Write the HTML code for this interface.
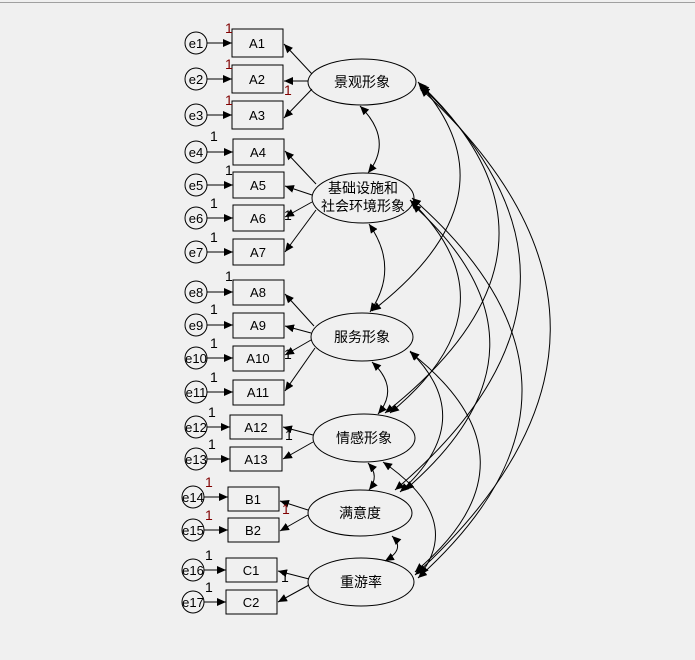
<!DOCTYPE html>
<html><head><meta charset="utf-8"><style>
html,body{margin:0;padding:0;background:#f0f0f0;}
svg{display:block;}
text{font-family:"Liberation Sans","Noto Sans CJK SC",sans-serif;}
</style></head><body>
<svg width="695" height="660" viewBox="0 0 695 660" xmlns="http://www.w3.org/2000/svg">
<defs>
<marker id="a" markerWidth="9" markerHeight="8" refX="9" refY="4" orient="auto-start-reverse" markerUnits="userSpaceOnUse">
<path d="M0,0 L9,4 L0,8 Z" fill="#000"/></marker>
</defs>
<rect width="695" height="660" fill="#f0f0f0"/>
<line x1="0" y1="2.5" x2="695" y2="2.5" stroke="#a0a0a0"/>
<g stroke="#000" stroke-width="1" fill="none">
<g fill="#f0f0f0">
<circle cx="196" cy="43" r="11"/><circle cx="196" cy="79" r="11"/><circle cx="196" cy="115" r="11"/>
<circle cx="196" cy="152" r="11"/><circle cx="196" cy="185" r="11"/><circle cx="196" cy="218" r="11"/><circle cx="196" cy="252" r="11"/>
<circle cx="196" cy="292" r="11"/><circle cx="196" cy="325" r="11"/><circle cx="196" cy="358" r="11"/><circle cx="196" cy="392" r="11"/>
<circle cx="196" cy="427" r="11"/><circle cx="196" cy="459" r="11"/>
<circle cx="193" cy="497" r="11"/><circle cx="193" cy="530" r="11"/>
<circle cx="193" cy="570" r="11"/><circle cx="193" cy="602" r="11"/>
</g>
<g marker-end="url(#a)">
<line x1="207" y1="43" x2="232" y2="43"/><line x1="207" y1="79" x2="232" y2="79"/><line x1="207" y1="115" x2="232" y2="115"/>
<line x1="207" y1="152" x2="233" y2="152"/><line x1="207" y1="185" x2="233" y2="185"/><line x1="207" y1="218" x2="233" y2="218"/><line x1="207" y1="252" x2="233" y2="252"/>
<line x1="207" y1="292" x2="233" y2="292"/><line x1="207" y1="325" x2="233" y2="325"/><line x1="207" y1="358" x2="233" y2="358"/><line x1="207" y1="392" x2="233" y2="392"/>
<line x1="207" y1="427" x2="230" y2="427"/><line x1="207" y1="459" x2="230" y2="459"/>
<line x1="204" y1="497" x2="228" y2="497"/><line x1="204" y1="530" x2="228" y2="530"/>
<line x1="204" y1="570" x2="226" y2="570"/><line x1="204" y1="602" x2="226" y2="602"/>
</g>
<g fill="#f0f0f0">
<rect x="232" y="29" width="51" height="28"/><rect x="232" y="65" width="51" height="28"/><rect x="232" y="101" width="51" height="28"/>
<rect x="233" y="139" width="51" height="26"/><rect x="233" y="172" width="51" height="26"/><rect x="233" y="205" width="51" height="26"/><rect x="233" y="239" width="51" height="26"/>
<rect x="233" y="280" width="51" height="25"/><rect x="233" y="313" width="51" height="25"/><rect x="233" y="346" width="51" height="25"/><rect x="233" y="380" width="51" height="25"/>
<rect x="230" y="415" width="52" height="24"/><rect x="230" y="447" width="52" height="24"/>
<rect x="228" y="487" width="51" height="24"/><rect x="228" y="518" width="51" height="24"/>
<rect x="226" y="558" width="51" height="24"/><rect x="226" y="590" width="51" height="24"/>
</g>
<g fill="#f0f0f0">
<ellipse cx="362" cy="82" rx="54" ry="23"/>
<ellipse cx="363" cy="198" rx="51" ry="25"/>
<ellipse cx="362" cy="337" rx="51" ry="24"/>
<ellipse cx="364" cy="438" rx="51" ry="24"/>
<ellipse cx="360" cy="513" rx="52" ry="23"/>
<ellipse cx="361" cy="582" rx="53" ry="24"/>
</g>
<g marker-end="url(#a)">
<line x1="312" y1="74" x2="284" y2="44"/><line x1="308" y1="81" x2="284" y2="81"/><line x1="312" y1="89" x2="284" y2="118"/>
<line x1="316" y1="184" x2="285" y2="151"/><line x1="312" y1="195" x2="285" y2="186"/><line x1="312" y1="202" x2="285" y2="217"/><line x1="316" y1="210" x2="285" y2="252"/>
<line x1="314" y1="326" x2="285" y2="294"/><line x1="311" y1="333" x2="285" y2="326"/><line x1="311" y1="340" x2="285" y2="355"/><line x1="315" y1="348" x2="285" y2="391"/>
<line x1="313" y1="435" x2="283" y2="427"/><line x1="313" y1="442" x2="283" y2="459"/>
<line x1="308" y1="510" x2="280" y2="501"/><line x1="308" y1="515" x2="280" y2="531"/>
<line x1="309" y1="579" x2="278" y2="571"/><line x1="309" y1="585" x2="278" y2="602"/>
</g>
<g marker-start="url(#a)" marker-end="url(#a)">
<path d="M360,106 Q394,140 368,173"/>
<path d="M369,224 Q400,268 370,312"/>
<path d="M372,362 Q400,388 378,414"/>
<path d="M368,463 Q380,476 369,490"/>
<path d="M392,536 Q406,549 385,561"/>
<path d="M418,82 Q521,196 372,311"/>
<path d="M420,84 Q594,248 385,413"/>
<path d="M421,86 Q632,288 395,490"/>
<path d="M420,88 Q683,330 415,575"/>
<path d="M410,200 Q520,306 390,413"/>
<path d="M412,204 Q571,347 405,490"/>
<path d="M412,198 Q629,388 418,578"/>
<path d="M410,351 Q480,420 400,492"/>
<path d="M410,352 Q548,460 415,572"/>
<path d="M383,462 Q464,518 420,575"/>
</g>
</g>
<g font-size="13" fill="#000" text-anchor="middle">
<text x="196" y="48">e1</text><text x="196" y="84">e2</text><text x="196" y="120">e3</text>
<text x="196" y="157">e4</text><text x="196" y="190">e5</text><text x="196" y="223">e6</text><text x="196" y="257">e7</text>
<text x="196" y="297">e8</text><text x="196" y="330">e9</text><text x="196" y="363">e10</text><text x="196" y="397">e11</text>
<text x="196" y="432">e12</text><text x="196" y="464">e13</text>
<text x="193" y="502">e14</text><text x="193" y="535">e15</text>
<text x="193" y="575">e16</text><text x="193" y="607">e17</text>
<text x="257" y="48">A1</text><text x="257" y="84">A2</text><text x="257" y="120">A3</text>
<text x="258" y="157">A4</text><text x="258" y="190">A5</text><text x="258" y="223">A6</text><text x="258" y="257">A7</text>
<text x="258" y="297">A8</text><text x="258" y="330">A9</text><text x="258" y="363">A10</text><text x="258" y="397">A11</text>
<text x="256" y="432">A12</text><text x="256" y="464">A13</text>
<text x="253" y="504">B1</text><text x="253" y="535">B2</text>
<text x="251" y="575">C1</text><text x="251" y="607">C2</text>
</g>
<g font-size="14" fill="#000" text-anchor="middle">
<text x="362" y="87">景观形象</text>
<text x="363" y="193">基础设施和</text><text x="363" y="211">社会环境形象</text>
<text x="362" y="342">服务形象</text>
<text x="364" y="443">情感形象</text>
<text x="360" y="518">满意度</text>
<text x="361" y="587">重游率</text>
</g>
<g font-size="14">
<text x="225" y="33" fill="#800000">1</text><text x="225" y="69" fill="#800000">1</text><text x="225" y="105" fill="#800000">1</text>
<text x="284" y="95" fill="#800000">1</text>
<text x="210" y="141">1</text><text x="225" y="175">1</text><text x="210" y="208">1</text><text x="210" y="242">1</text>
<text x="284" y="220">1</text>
<text x="225" y="281">1</text><text x="210" y="314">1</text><text x="210" y="348">1</text><text x="210" y="382">1</text>
<text x="284" y="359">1</text>
<text x="208" y="417">1</text><text x="208" y="449">1</text>
<text x="285" y="440">1</text>
<text x="205" y="487" fill="#800000">1</text><text x="205" y="520" fill="#800000">1</text>
<text x="282" y="514" fill="#800000">1</text>
<text x="205" y="560">1</text><text x="205" y="592">1</text>
<text x="281" y="582">1</text>
</g>
</svg>
</body></html>
